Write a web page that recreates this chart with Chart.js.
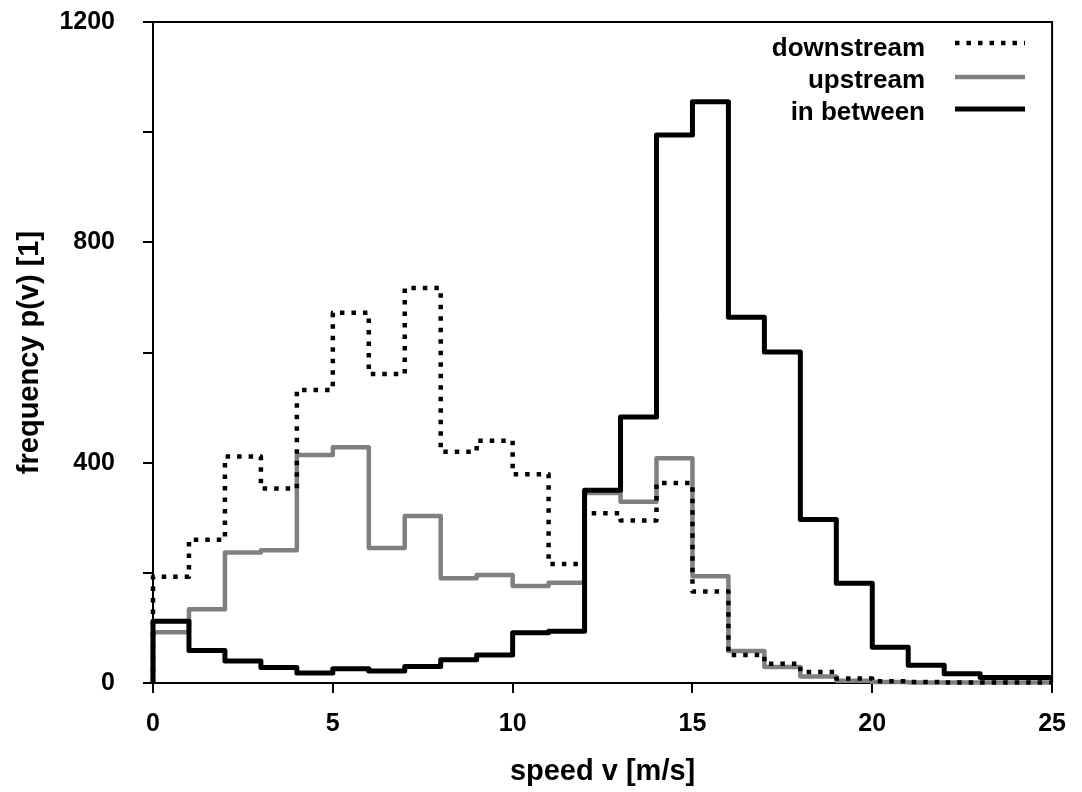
<!DOCTYPE html>
<html>
<head>
<meta charset="utf-8">
<script src="https://cdn.jsdelivr.net/npm/chart.js@4/dist/chart.umd.min.js"></script>
<style>
  body { margin: 0; background: #fff; }
  #wrap { width: 1082px; height: 792px; position: relative; }
</style>
</head>
<body>
<div id="wrap"><canvas id="chart"></canvas></div>
<script>
// bin edges of the speed histogram, 1 m/s wide
const speedEdges = [0, 1, 2, 3, 4, 5, 6, 7, 8, 9, 10, 11, 12, 13, 14, 15, 16, 17, 18, 19, 20, 21, 22, 23, 24, 25];

// frequency per bin (values for bins 0-1, 1-2, ... 24-25)
const downstream = [193, 260, 411, 353, 532, 672, 561, 717, 420, 440, 379, 216, 308, 295, 363, 166, 51, 35, 20, 8, 3, 2, 1, 1, 1];
const upstream   = [92, 134, 237, 241, 414, 428, 245, 303, 190, 196, 176, 182, 345, 329, 408, 194, 58, 29, 12, 4, 2, 1, 1, 1, 1];
const inBetween  = [112, 59, 40, 28, 18, 26, 22, 30, 42, 51, 91, 94, 350, 483, 995, 1055, 664, 601, 297, 181, 65, 32, 17, 10, 10];

const seriesNames = ['downstream', 'upstream', 'in between'];
const xTicks = [0, 5, 10, 15, 20, 25];
const yTicks = [0, 400, 800, 1200];

const FONT = '"Liberation Sans", Arial, Helvetica, sans-serif';

// step outline: start at (0,0), then one point per bin at its right edge
// (stepped 'after' draws the vertical first, then the bin top)
function toSteps(values) {
    const pts = [{ x: speedEdges[0], y: 0 }];
    values.forEach((v, i) => pts.push({ x: speedEdges[i + 1], y: v }));
    return pts;
}

const styles = {
    'downstream': { color: '#000000', width: 4.5, dash: [4.5, 7] },
    'upstream':   { color: '#808080', width: 4.5, dash: [] },
    'in between': { color: '#000000', width: 5, dash: [] }
};

// plot frame (top and right edges)
const framePlugin = {
    id: 'frame',
    afterDraw(chart) {
        const { ctx, chartArea: a } = chart;
        ctx.save();
        ctx.strokeStyle = '#000';
        ctx.lineWidth = 2;
        ctx.beginPath();
        ctx.moveTo(a.left, a.top);
        ctx.lineTo(a.right, a.top);
        ctx.lineTo(a.right, a.bottom);
        ctx.stroke();
        ctx.restore();
    }
};

// legend inside the plot, text right aligned with the line sample on the right
const legendPlugin = {
    id: 'insideLegend',
    afterDraw(chart) {
        const { ctx } = chart;
        const textRight = 925;
        const lineX0 = 955, lineX1 = 1025;
        const rows = [
            { name: seriesNames[0], lineY: 43, baseY: 56 },
            { name: seriesNames[1], lineY: 77, baseY: 88 },
            { name: seriesNames[2], lineY: 109, baseY: 120 }
        ];
        ctx.save();
        ctx.font = 'bold 26px ' + FONT;
        ctx.fillStyle = '#000';
        ctx.textAlign = 'right';
        ctx.textBaseline = 'alphabetic';
        rows.forEach(r => {
            ctx.fillText(r.name, textRight, r.baseY);
            const s = styles[r.name];
            ctx.strokeStyle = s.color;
            ctx.lineWidth = s.width;
            ctx.setLineDash(s.dash);
            ctx.lineCap = 'butt';
            ctx.beginPath();
            ctx.moveTo(lineX0, r.lineY);
            ctx.lineTo(lineX1, r.lineY);
            ctx.stroke();
        });
        ctx.restore();
    }
};

function makeDataset(name, values) {
    const s = styles[name];
    return {
        label: name,
        data: toSteps(values),
        stepped: 'after',
        borderColor: s.color,
        borderWidth: s.width,
        borderDash: s.dash,
        borderJoinStyle: 'round',
        pointRadius: 0,
        fill: false,
        clip: false
    };
}

const ctx = document.getElementById('chart').getContext('2d');

new Chart(ctx, {
    type: 'line',
    data: {
        // first dataset is drawn on top
        datasets: [
            makeDataset('in between', inBetween),
            makeDataset('downstream', downstream),
            makeDataset('upstream', upstream)
        ]
    },
    options: {
        responsive: true,
        maintainAspectRatio: false,
        animation: false,
        layout: { padding: { top: 22, right: 27, left: 0, bottom: 0 } },
        plugins: {
            legend: { display: false },
            tooltip: { enabled: false }
        },
        scales: {
            x: {
                type: 'linear',
                min: xTicks[0],
                max: xTicks[xTicks.length - 1],
                afterFit: scale => { scale.height = 109; },
                afterBuildTicks: scale => { scale.ticks = xTicks.map(v => ({ value: v })); },
                grid: {
                    drawOnChartArea: false,
                    drawTicks: true,
                    tickLength: 10,
                    color: '#000',
                    lineWidth: 2
                },
                border: { display: true, color: '#000', width: 2 },
                ticks: {
                    color: '#000',
                    padding: 16,
                    maxRotation: 0,
                    font: { family: FONT, size: 25, weight: 'bold' }
                },
                title: {
                    display: true,
                    text: 'speed v [m/s]',
                    color: '#000',
                    padding: { top: 0, bottom: 3 },
                    font: { family: FONT, size: 29, weight: 'bold' }
                }
            },
            y: {
                min: yTicks[0],
                max: yTicks[yTicks.length - 1],
                afterFit: scale => {
                    scale.width = 153;
                    scale.paddingTop = 0;
                    scale.paddingBottom = 0;
                },
                ticks: {
                    stepSize: 200,
                    color: '#000',
                    padding: 28,
                    font: { family: FONT, size: 25, weight: 'bold' },
                    callback: v => (yTicks.includes(v) ? v : '')
                },
                grid: {
                    drawOnChartArea: false,
                    drawTicks: true,
                    tickLength: 10,
                    color: '#000',
                    lineWidth: 2
                },
                border: { display: true, color: '#000', width: 2 },
                title: {
                    display: true,
                    text: 'frequency p(v) [1]',
                    color: '#000',
                    padding: { top: 13, bottom: 0 },
                    font: { family: FONT, size: 29, weight: 'bold' }
                }
            }
        }
    },
    plugins: [framePlugin, legendPlugin]
});
</script>
</body>
</html>
